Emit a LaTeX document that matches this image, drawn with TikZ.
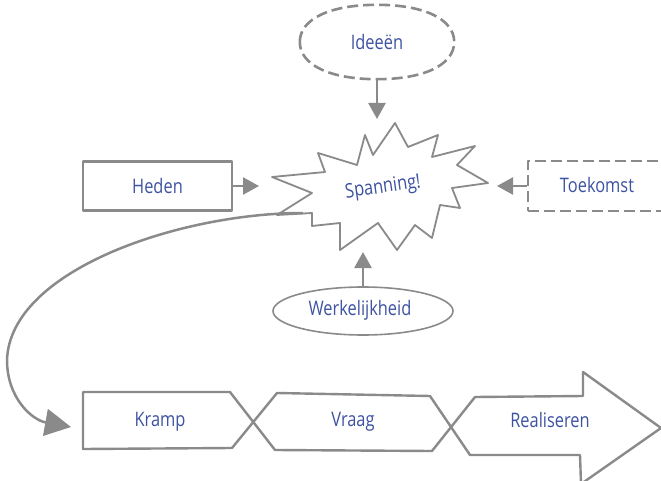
\documentclass[tikz,border=0pt]{standalone}
\usepackage{fontspec}
\setmainfont{Open Sans}[FakeStretch=0.82]
\usetikzlibrary{arrows.meta,shapes.geometric}
\definecolor{lc}{HTML}{8A8A8A}
\definecolor{tc}{HTML}{3D52A1}
\begin{document}
\begin{tikzpicture}[x=1pt,y=-1pt,line join=round,
  lbl/.style={text=tc,font=\fontsize{20}{24}\selectfont,inner sep=0pt},
  boxline/.style={draw=lc,line width=2.2pt},
  dsh/.style={dash pattern=on 11pt off 5pt},
  arr/.style={draw=lc,line width=2.5pt,-{Triangle[length=16pt,width=17pt,fill=lc]}},
  bigarr/.style={draw=lc,line width=2.5pt,-{Triangle[length=26pt,width=27pt,fill=lc]}}]
\useasboundingbox (0,0) rectangle (661,481);

% star
\draw[lc,line width=1.8pt,fill=white] (272,177) -- (325,172) -- (318,153) -- (357,165) -- (365,135) -- (373,155)
  -- (395,123) -- (408,147) -- (438,135) -- (432,157) -- (475,146) -- (457,165) -- (488,183)
  -- (452,188) -- (460,208) -- (440,205) -- (432,238) -- (415,225) -- (397,250) -- (378,223)
  -- (340,250) -- (340,223) -- (312,226) -- (312,213) -- (277,215) -- (312,193) -- cycle;
\node[lbl,rotate=8] (span) at (383,188) {Spanning!};

% targets on the star
\coordinate (spN) at (377,119);
\coordinate (spW) at (259,186);
\coordinate (spE) at (497,186);
\coordinate (spS) at (363,252);
\coordinate (cs) at (303,213);

% Ideeen
\node[minimum width=154pt,minimum height=74pt,lbl] (idee) at (377,42) {Ideeën};
\draw[lc,line width=2.6pt,dsh] (idee.west) .. controls +(0,-23) and +(-47,0) .. (idee.north)
  .. controls +(47,0) and +(0,-23) .. (idee.east)
  .. controls +(0,23) and +(47,0) .. (idee.south)
  .. controls +(-47,0) and +(0,23) .. (idee.west);
\draw[arr] (idee.south) -- (spN);

% Heden
\node[boxline,minimum width=149pt,minimum height=49pt,lbl] (heden) at (157.5,186) {Heden};
\draw[arr] (heden.east) -- (spW);

% Toekomst
\node[boxline,dsh,minimum width=152pt,minimum height=50pt] (toek) at (604,186) {};
\node[lbl] (toekt) at (597,185) {Toekomst};
\draw[arr] (toek.west) -- (spE);

% Werkelijkheid
\node[ellipse,draw=lc,line width=1.6pt,minimum width=180pt,minimum height=48pt] (werk) at (363,311) {};
\node[lbl] (werkt) at (360,310) {Werkelijkheid};
\draw[arr] (werk.north) -- (spS);

% bottom chain
\coordinate (kr) at (71,427);
\draw[bigarr] (cs) .. controls (180,213) and (10,270) .. (7,360) .. controls (7,398) and (32,420) .. (kr);

\draw[boxline,line width=2.4pt] (230,392) -- (83,392) -- (83,449) -- (232,448) -- (277,393) -- (430,396) -- (470,455)
  -- (580,455) -- (581,484) -- (661,428) -- (583,372) -- (583,396) -- (475,397) -- (432,451) -- (275,450) -- cycle;
\node[lbl] (kramp) at (160,422) {Kramp};
\node[lbl] (vraag) at (353,422) {Vraag};
\node[lbl] (real) at (550,420) {Realiseren};
\end{tikzpicture}
\end{document}
